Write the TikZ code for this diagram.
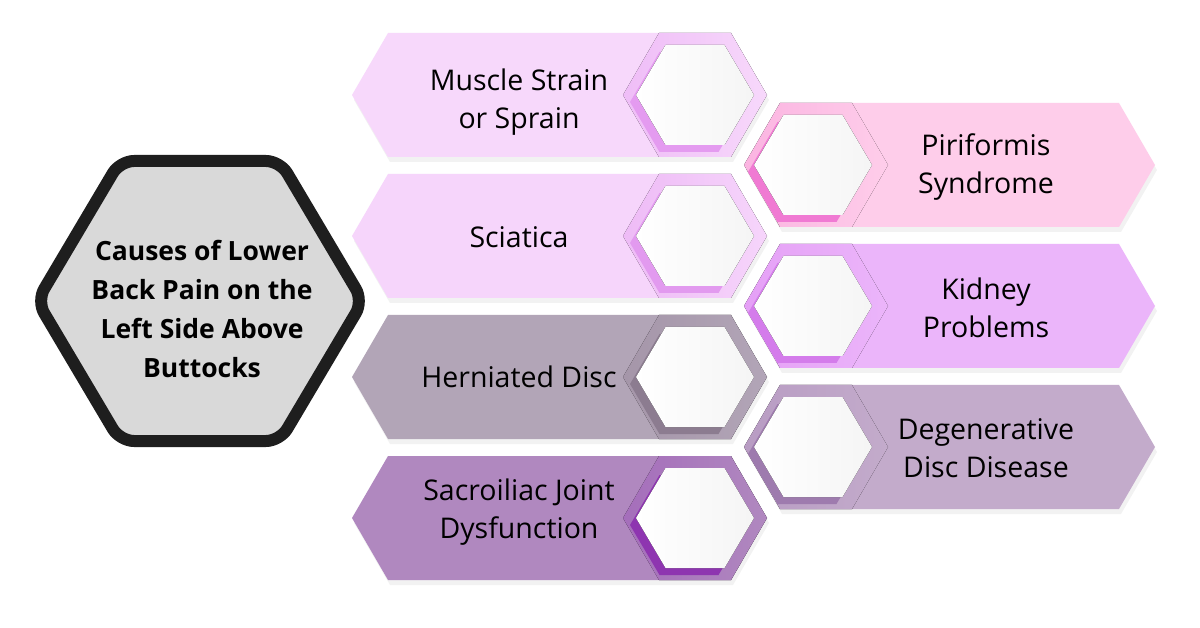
\documentclass[tikz,border=0pt]{standalone}
\usepackage{fontspec}
\setmainfont{Open Sans}
\usetikzlibrary{calc}

\definecolor{mBan}{HTML}{F7D8FB}\definecolor{mRing}{HTML}{EFBDF7}\definecolor{mDark}{HTML}{E49BF0}
\definecolor{sBan}{HTML}{F6D5FB}\definecolor{sRing}{HTML}{EEBBF6}\definecolor{sDark}{HTML}{E29AEF}
\definecolor{hBan}{HTML}{B2A5B7}\definecolor{hRing}{HTML}{A596A9}\definecolor{hDark}{HTML}{8C7C90}
\definecolor{jBan}{HTML}{B088BF}\definecolor{jRing}{HTML}{A56EBB}\definecolor{jDark}{HTML}{8E35B0}
\definecolor{pBan}{HTML}{FECDEA}\definecolor{pRing}{HTML}{FBB4E1}\definecolor{pDark}{HTML}{F07AD3}
\definecolor{kBan}{HTML}{EBB5FA}\definecolor{kRing}{HTML}{E5A0F6}\definecolor{kDark}{HTML}{D47CEB}
\definecolor{dBan}{HTML}{C3ABCB}\definecolor{dRing}{HTML}{B89CC3}\definecolor{dDark}{HTML}{9E7BAE}
\definecolor{centreFill}{HTML}{D9D9D9}
\definecolor{centreLine}{HTML}{1E1E1E}

\newcommand\hexat[4]{({#1-#3},{#2}) -- ({#1-#3/2},{#2-#4}) -- ({#1+#3/2},{#2-#4}) -- ({#1+#3},{#2}) -- ({#1+#3/2},{#2+#4}) -- ({#1-#3/2},{#2+#4}) -- cycle}

% #1 name, #2 cy, #3 colour prefix, #4 text, #5 text y
\newcommand\leftcause[5]{%
  \fill[black,opacity=0.05] (354,{#2+5}) -- (390,{#2-57}) -- (733,{#2-57}) -- (769,{#2+5}) -- (733,{#2+67}) -- (390,{#2+67}) -- cycle;
  \fill[#3Ban] (352,{#2}) -- (388,{#2-62}) -- (731,{#2-62}) -- (767,{#2}) -- (731,{#2+62}) -- (388,{#2+62}) -- cycle;
  \fill[left color=#3Ring,right color=#3Ban] \hexat{695}{#2}{72}{62};
  \fill[#3Dark] \hexat{689}{#2+7}{59}{50};
  \fill[left color=white,right color=black!4] \hexat{695}{#2}{59}{50};
  \node[causetext] (#1) at (519,{#5}) {#4};
}
\newcommand\rightcause[5]{%
  \fill[black,opacity=0.05] (746,{#2+5}) -- (782,{#2-57}) -- (1121,{#2-57}) -- (1157,{#2+5}) -- (1121,{#2+67}) -- (782,{#2+67}) -- cycle;
  \fill[#3Ban] (744,{#2}) -- (780,{#2-62}) -- (1119,{#2-62}) -- (1155,{#2}) -- (1119,{#2+62}) -- (780,{#2+62}) -- cycle;
  \fill[left color=#3Ring,right color=#3Ban] \hexat{816}{#2}{72}{62};
  \fill[#3Dark] \hexat{807}{#2+7}{59}{50};
  \fill[left color=white,right color=black!4] \hexat{813}{#2}{59}{50};
  \node[causetext] (#1) at (986,{#5}) {#4};
}

\tikzset{
  causetext/.style={align=center,font=\fontsize{28.5}{38.5}\selectfont,text=black,inner sep=0pt},
  titletext/.style={align=center,font=\fontsize{26.5}{39}\selectfont\bfseries,text=black,inner sep=0pt}
}

\begin{document}
\begin{tikzpicture}[x=1pt,y=-1pt]
\useasboundingbox (0,0) rectangle (1200,628);
\fill[white] (0,0) rectangle (1200,628);

% central hexagon
\draw[line width=12pt,draw=centreLine,fill=centreFill,rounded corners=14pt,line join=round]
  (37,301) -- (120,161) -- (280,161) -- (363,301) -- (280,441) -- (120,441) -- cycle;
\node[titletext] (title) at (202,309) {Causes of Lower\\Back Pain on the\\Left Side Above\\Buttocks};

\leftcause{muscle}{95}{m}{Muscle Strain\\or Sprain}{102}
\leftcause{sciatica}{236}{s}{Sciatica}{237}
\leftcause{herniated}{377}{h}{Herniated Disc}{377}
\leftcause{sacro}{518}{j}{Sacroiliac Joint\\Dysfunction}{512}

\rightcause{piri}{165}{p}{Piriformis\\Syndrome}{167}
\rightcause{kidney}{306}{k}{Kidney\\Problems}{308}
\rightcause{degen}{447}{d}{Degenerative\\Disc Disease}{448}
\end{tikzpicture}
\end{document}
